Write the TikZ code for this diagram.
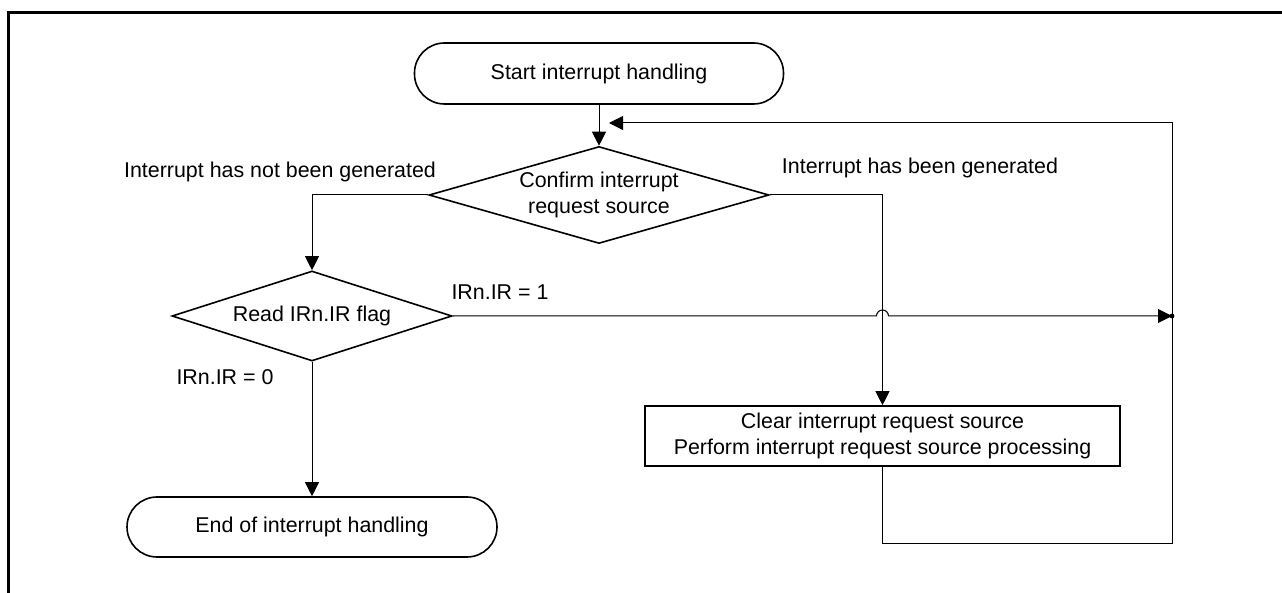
\documentclass[tikz,border=0pt]{standalone}
\usepackage{fontspec}
\setmainfont{Liberation Sans}
\usetikzlibrary{shapes.geometric,arrows.meta}

\begin{document}
\begin{tikzpicture}[
    x=0.5pt, y=-0.5pt,
    every node/.style={font=\fontsize{10.7}{13}\selectfont, align=center},
    terminal/.style={draw, line width=0.8pt, rounded corners=15pt, minimum width=184.5pt, minimum height=30.5pt},
    decision/.style={draw, line width=0.8pt, diamond, inner sep=0pt},
    process/.style={draw, line width=0.8pt, minimum width=237.5pt, minimum height=30pt},
    arrow/.style={->, line width=0.5pt},
    >={Triangle[length=7pt, width=7pt]}
]

\useasboundingbox (0,0) rectangle (1282,593);
\draw[line width=1.5pt] (8.5,593) -- (8.5,12.5) -- (1282,12.5);

\node[terminal] (start) at (599,73.5) {Start interrupt handling};
\node[decision, minimum width=170pt, minimum height=48.5pt, aspect=3.5] (confirm) at (599,195) {Confirm interrupt\\request source};
\node[decision, minimum width=140pt, minimum height=45pt, aspect=3.1] (read) at (312,316) {Read IRn.IR flag};
\node[process] (proc) at (882.5,436) {Clear interrupt request source\\Perform interrupt request source processing};
\node[terminal, minimum width=185pt, minimum height=30pt] (end) at (312,527) {End of interrupt handling};

\node (nogen) at (280,172) {Interrupt has not been generated};
\node (gen) at (920,168) {Interrupt has been generated};
\node (one) at (500,292) {IRn.IR = 1};
\node (zero) at (225,377) {IRn.IR = 0};

\coordinate (rdot) at (1172,316);
\coordinate (corner) at (1172,544);
\coordinate (back) at (609,123);
\coordinate (cross) at (proc.north |- read.east);

\draw[arrow] (start) -- (confirm);
\draw[arrow] (confirm.west) -| (read.north);
\draw[arrow] (confirm.east) -| (proc.north);
\draw[arrow] (read) -- (end);
\draw[arrow] (read.east) -- ([xshift=-3pt]cross) arc[start angle=180, end angle=0, radius=3pt] -- (rdot);
\fill (rdot) circle[radius=1.2pt];
\draw[arrow] (proc.south) |- (corner) |- (back);

\end{tikzpicture}
\end{document}
